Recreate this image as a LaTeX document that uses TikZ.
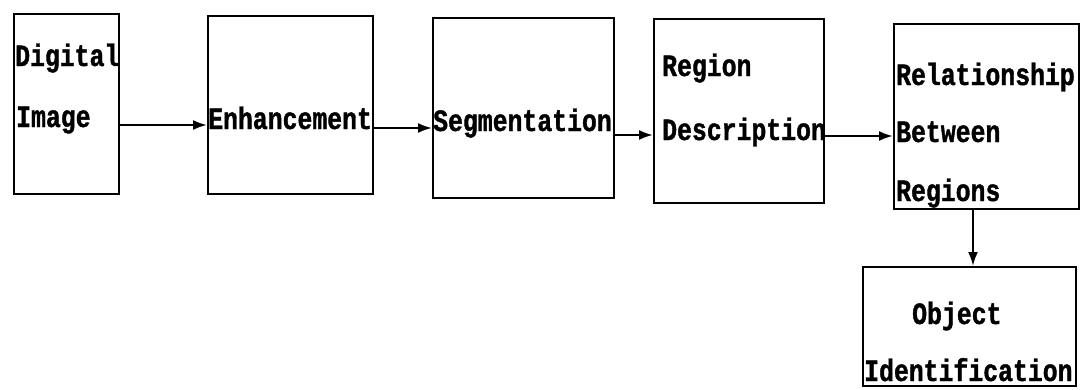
\documentclass[tikz,border=0pt]{standalone}
\usepackage{fontspec}
\newfontfamily\diagfont[FakeStretch=0.8,FakeBold=1.2]{Liberation Mono}
\usetikzlibrary{arrows.meta}
\begin{document}
\begin{tikzpicture}[x=1pt,y=-1pt,
  box/.style={draw, line width=2.4pt, rectangle, inner sep=0pt, anchor=north west},
  lbl/.style={anchor=base west, inner sep=0pt, font=\diagfont\bfseries\fontsize{31}{34}\selectfont},
  arr/.style={line width=2.3pt, -{Latex[length=14pt,width=10pt]}}]
\useasboundingbox (0,0) rectangle (1080,389);
% boxes
\node[box, minimum width=105pt, minimum height=180pt] (b1) at (13,13) {};
\node[box, minimum width=165pt, minimum height=178pt] (b2) at (207,15) {};
\node[box, minimum width=181pt, minimum height=180pt] (b3) at (432,17) {};
\node[box, minimum width=170pt, minimum height=184pt] (b4) at (653,18) {};
\node[box, minimum width=185pt, minimum height=185pt] (b5) at (893,23) {};
\node[box, minimum width=213pt, minimum height=119pt] (b6) at (862,266) {};
% labels
\node[lbl] (t1a) at (15,66) {Digital};
\node[lbl] (t1b) at (16,127) {Image};
\node[lbl] (t2) at (208,129) {Enhancement};
\node[lbl] (t3) at (433,131) {Segmentation};
\node[lbl] (t4a) at (662,76) {Region};
\node[lbl] (t4b) at (662,140) {Description};
\node[lbl] (t5a) at (896,85) {Relationship};
\node[lbl] (t5b) at (896,142) {Between};
\node[lbl] (t5c) at (896,201) {Regions};
\node[lbl] (t6a) at (912,324) {Object};
\node[lbl] (t6b) at (864,381) {Identification};
% connectors
\draw[arr] (b1.east |- 0,125) -- (b2.west |- 0,125);
\draw[arr] (b2.east |- 0,128) -- (b3.west |- 0,128);
\draw[arr] (b3.east |- 0,135) -- (b4.west |- 0,135);
\draw[arr] (b4.east |- 0,136) -- (b5.west |- 0,136);
\draw[arr] (973,0 |- b5.south) -- (973,0 |- b6.north);
\end{tikzpicture}
\end{document}
